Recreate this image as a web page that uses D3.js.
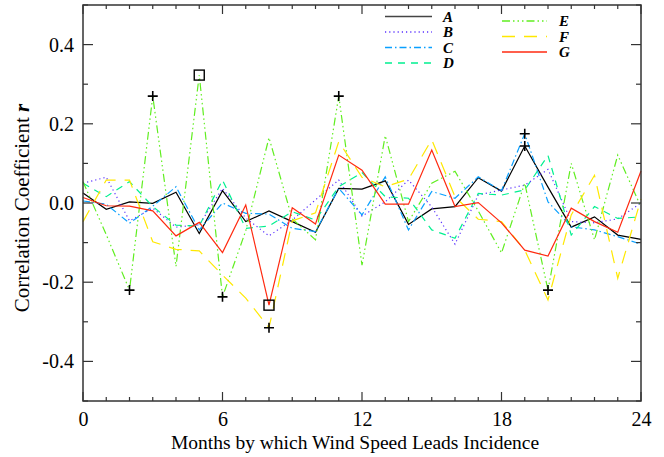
<!DOCTYPE html>
<html><head><meta charset="utf-8">
<script src="https://cdn.jsdelivr.net/npm/d3@7"></script>
<style>body{margin:0;background:#fff}svg{display:block}</style>
</head><body><svg id="c" width="664" height="457"></svg>
<script>
const months = d3.range(0, 25);
const xTicks = [0, 6, 12, 18, 24];
const yTicks = [-0.4, -0.2, 0.0, 0.2, 0.4];
const seriesNames = ["A","B","C","D","E","F","G"];
const A = [0.025,-0.016,0.003,-0.001,0.027,-0.077,0.031,-0.047,-0.020,-0.047,-0.074,0.037,0.035,0.056,-0.054,-0.015,-0.009,0.064,0.030,0.144,0.04,-0.061,-0.035,-0.081,-0.092];
const B = [0.05,0.065,-0.045,-0.013,-0.061,-0.055,0.037,-0.038,-0.083,-0.043,0.008,0.058,-0.033,0.003,0.058,-0.01,-0.104,0.02,0.033,0.045,0.085,-0.047,-0.05,-0.04,0.0];
const C = [0.005,-0.003,-0.051,-0.008,0.041,-0.068,0.0,-0.026,-0.028,-0.064,-0.072,0.037,-0.03,0.066,-0.068,0.029,0.012,0.066,0.031,0.175,0.003,-0.06,-0.068,-0.085,-0.104];
const D = [0.05,0.016,0.054,-0.009,-0.056,-0.058,0.058,-0.064,-0.058,-0.022,-0.043,0.041,0.077,0.016,0.012,-0.068,-0.089,0.024,0.02,0.033,0.12,-0.081,-0.009,-0.039,-0.035];
const E = [0.054,-0.08,-0.22,0.27,-0.16,0.323,-0.237,-0.07,0.165,-0.04,-0.093,0.27,-0.157,0.17,-0.047,0.05,0.08,-0.02,-0.126,0.05,-0.22,0.10,-0.093,0.121,-0.01];
const F = [-0.047,0.058,0.058,-0.098,-0.117,-0.121,-0.182,-0.24,-0.315,-0.045,-0.025,0.155,0.065,0.041,0.060,0.160,0.016,-0.041,-0.047,-0.119,-0.245,-0.03,0.07,-0.19,0.01];
const G = [0.014,-0.007,-0.008,-0.020,-0.083,-0.049,-0.125,-0.005,-0.258,-0.012,-0.053,0.121,0.083,-0.003,-0.003,0.134,-0.009,0.001,-0.05,-0.119,-0.134,-0.013,-0.047,-0.074,0.081];
// markers: [series, month]
const plusMarks = [["E",2],["E",3],["E",6],["F",8],["E",11],["C",19],["A",19],["E",20]];
const squareMarks = [["E",5],["G",8]];

const data = {A,B,C,D,E,F,G};
const colors = {A:"#000000",B:"#5a32ff",C:"#0aa0ff",D:"#00f090",E:"#60ee20",F:"#ffe800",G:"#ff2a10"};
const dashes = {A:null,B:"1.2,3",C:"7,3,1.5,3",D:"7,6",E:"8,3,1.5,3,1.5,3,1.5,3",F:"13,9",G:null};

const svg = d3.select("#c");
const x = d3.scaleLinear().domain([0,24]).range([83,641]);
const y = d3.scaleLinear().domain([-0.5,0.5]).range([401,5]);
const serif = "'Liberation Serif','DejaVu Serif',serif";
const frameCol = "#333";

// series lines
const line = d3.line().x((d,i)=>x(months[i])).y(d=>y(d));
seriesNames.forEach(k=>{
  svg.append("path").datum(data[k]).attr("d",line)
    .attr("fill","none").attr("stroke",colors[k]).attr("stroke-width",1.2)
    .attr("stroke-dasharray",dashes[k]);
});

// markers
plusMarks.forEach(([k,m])=>{
  const cx=x(m), cy=y(data[k][m]);
  svg.append("path").attr("d",`M${cx-5},${cy}H${cx+5}M${cx},${cy-5}V${cy+5}`)
    .attr("stroke","#000").attr("stroke-width",1.6);
});
squareMarks.forEach(([k,m])=>{
  const cx=x(m), cy=y(data[k][m]);
  svg.append("rect").attr("x",cx-5).attr("y",cy-5).attr("width",10).attr("height",10)
    .attr("fill","none").attr("stroke","#000").attr("stroke-width",1.4);
});

// axes
const xMinor = d3.range(0,25);
const yMinor = d3.range(-5,6).map(v=>v/10);
const bottom = d3.axisBottom(x).tickValues(xTicks).tickFormat(d3.format("d")).tickSize(0).tickPadding(11);
const gB = svg.append("g").attr("transform","translate(0,401)").call(bottom);
gB.select(".domain").remove();
gB.selectAll("text").attr("font-family",serif).attr("font-size",20).attr("fill","#000");
const left = d3.axisLeft(y).tickValues(yTicks).tickFormat(d=>(d<0?"-":"")+Math.abs(d).toFixed(1)).tickSize(0).tickPadding(9);
const gL = svg.append("g").attr("transform","translate(83,0)").call(left);
gL.select(".domain").remove();
gL.selectAll("text").attr("font-family",serif).attr("font-size",20).attr("fill","#000");

// tick marks
const tk = svg.append("g").attr("stroke",frameCol).attr("stroke-width",1.2);
xMinor.forEach(m=>{
  const L = (m%6===0)?9:4;
  tk.append("line").attr("x1",x(m)).attr("x2",x(m)).attr("y1",401).attr("y2",401-L);
  tk.append("line").attr("x1",x(m)).attr("x2",x(m)).attr("y1",5).attr("y2",5+L);
});
yMinor.forEach(v=>{
  const major = Math.abs(Math.round(v*10))%2===0;
  const L = major?10:5;
  tk.append("line").attr("x1",83).attr("x2",83+L).attr("y1",y(v)).attr("y2",y(v));
  tk.append("line").attr("x1",641).attr("x2",641-L).attr("y1",y(v)).attr("y2",y(v));
});
svg.append("rect").attr("x",83).attr("y",5).attr("width",558).attr("height",396)
  .attr("fill","none").attr("stroke",frameCol).attr("stroke-width",1.5);

// titles
svg.append("text").attr("x",355).attr("y",449).attr("text-anchor","middle")
  .attr("font-family",serif).attr("font-size",19.5).text("Months by which Wind Speed Leads Incidence");
const yt = svg.append("text").attr("transform",`translate(29,208) rotate(-90)`).attr("text-anchor","middle")
  .attr("font-family",serif).attr("font-size",21);
yt.append("tspan").text("Correlation Coefficient ");
yt.append("tspan").attr("font-weight","bold").attr("font-style","italic").text("r");

// legend
const leg1 = ["A","B","C","D"], leg2 = ["E","F","G"];
function legend(keys,x1,x2,tx,y0,dy){
  keys.forEach((k,i)=>{
    const yy=y0+i*dy;
    svg.append("line").attr("x1",x1).attr("x2",x2).attr("y1",yy).attr("y2",yy)
      .attr("stroke",k==="A"?"#444":colors[k]).attr("stroke-width",1.4).attr("stroke-dasharray",dashes[k]);
    svg.append("text").attr("x",tx).attr("y",yy+5).attr("font-family",serif).attr("font-size",15)
      .attr("font-weight","bold").attr("font-style","italic").text(k);
  });
}
legend(leg1,385,432,443,16.5,15.5);
legend(leg2,502,547,559,21,15.5);
</script></body></html>
